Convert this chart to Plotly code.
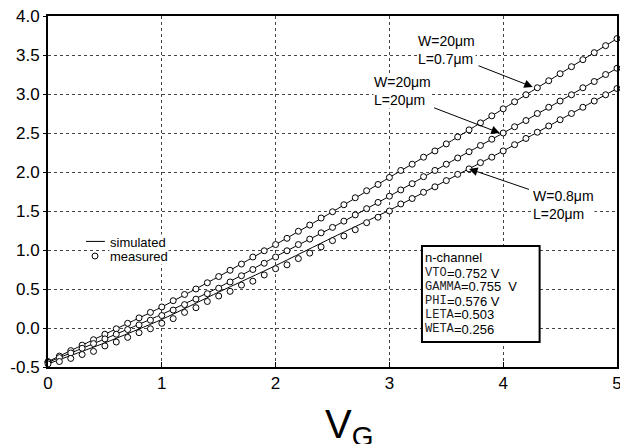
import plotly.graph_objects as go

# ---------------- data ----------------
vg_sim = [0.0, 0.5, 1.0, 1.5, 2.0, 2.5, 3.0, 3.5, 4.0, 4.5, 5.0]
sim_w20_l07 = [-0.43, -0.08, 0.27, 0.66, 1.07, 1.49, 1.93, 2.36, 2.81, 3.26, 3.71]
sim_w20_l20 = [-0.44, -0.14, 0.175, 0.52, 0.915, 1.29, 1.69, 2.10, 2.50, 2.91, 3.33]
sim_w08_l20 = [-0.46, -0.19, 0.11, 0.46, 0.80, 1.16, 1.51, 1.89, 2.27, 2.67, 3.07]

vg_meas = [round(i * 0.1, 1) for i in range(51)]
meas_w20_l07 = [-0.43, -0.36, -0.29, -0.22, -0.15, -0.08, -0.01, 0.06, 0.13, 0.20,
                0.27, 0.35, 0.43, 0.50, 0.58, 0.66, 0.74, 0.82, 0.91, 0.99,
                1.07, 1.15, 1.24, 1.32, 1.41, 1.49, 1.58, 1.67, 1.76, 1.84,
                1.93, 2.02, 2.10, 2.19, 2.27, 2.36, 2.45, 2.54, 2.63, 2.72,
                2.81, 2.90, 2.99, 3.08, 3.17, 3.26, 3.35, 3.44, 3.53, 3.62, 3.71]
meas_w20_l20 = [-0.44, -0.38, -0.32, -0.26, -0.20, -0.14, -0.08, -0.02, 0.04, 0.10,
                0.16, 0.23, 0.30, 0.37, 0.44, 0.51, 0.59, 0.67, 0.75, 0.83,
                0.91, 0.99, 1.07, 1.14, 1.22, 1.29, 1.37, 1.45, 1.53, 1.61,
                1.69, 1.77, 1.85, 1.94, 2.02, 2.10, 2.18, 2.26, 2.34, 2.42,
                2.50, 2.58, 2.66, 2.75, 2.83, 2.91, 2.99, 3.08, 3.16, 3.25, 3.33]
meas_w08_l20 = [-0.46, -0.43, -0.39, -0.34, -0.30, -0.23, -0.18, -0.12, -0.06, -0.01,
                0.06, 0.12, 0.20, 0.26, 0.34, 0.41, 0.47, 0.55, 0.60, 0.68,
                0.76, 0.81, 0.89, 0.96, 1.04, 1.12, 1.18, 1.26, 1.35, 1.42,
                1.50, 1.59, 1.66, 1.74, 1.81, 1.89, 1.97, 2.04, 2.12, 2.19,
                2.27, 2.35, 2.43, 2.51, 2.59, 2.67, 2.75, 2.83, 2.91, 2.99, 3.07]

x_ticks = [0, 1, 2, 3, 4, 5]
y_ticks = [-0.5, 0.0, 0.5, 1.0, 1.5, 2.0, 2.5, 3.0, 3.5, 4.0]

labels = ["W=20μm<br>L=0.7μm", "W=20μm<br>L=20μm", "W=0.8μm<br>L=20μm"]
param_title = "n-channel"
param_keys = ["VTO", "GAMMA", "PHI", "LETA", "WETA"]
param_vals = ["=0.752 V", "=0.755  V", "=0.576 V", "=0.503", "=0.256"]

FONT = "Arial, Liberation Sans, sans-serif"
MONO = "Liberation Mono, Courier New, monospace"

fig = go.Figure()
for ys in (sim_w20_l07, sim_w20_l20, sim_w08_l20):
    fig.add_trace(go.Scatter(x=vg_sim, y=ys, mode="lines",
                             line=dict(color="black", width=1, shape="spline", smoothing=0.6),
                             showlegend=False, hoverinfo="skip", cliponaxis=False))
for ys in (meas_w20_l07, meas_w20_l20, meas_w08_l20):
    fig.add_trace(go.Scatter(x=vg_meas, y=ys, mode="markers",
                             marker=dict(symbol="circle", size=6, color="white",
                                         line=dict(color="black", width=1)),
                             showlegend=False, hoverinfo="skip", cliponaxis=False))

annotations = []
# curve labels (white background hides the grid behind them)
for (lx, ly, t) in [(3.24, 3.56, labels[0]), (2.86, 3.04, labels[1]), (4.25, 1.58, labels[2])]:
    annotations.append(dict(x=lx, y=ly, xref="x", yref="y", text=t, showarrow=False,
                            xanchor="left", yanchor="middle", align="left", bgcolor="white",
                            borderpad=0,
                            font=dict(family=FONT, size=14, color="black")))
# arrows
for (tx, ty, hx, hy) in [(3.77, 3.37, 4.26, 3.09), (3.38, 2.83, 3.97, 2.50), (4.24, 1.77, 3.70, 2.04)]:
    annotations.append(dict(x=hx, y=hy, ax=tx, ay=ty, xref="x", yref="y", axref="x", ayref="y",
                            text="", showarrow=True, arrowhead=2, arrowsize=1.7, arrowwidth=1,
                            arrowcolor="black", standoff=0))
# legend
annotations.append(dict(x=0.54, y=1.10, xref="x", yref="y", text="simulated", showarrow=False,
                        xanchor="left", yanchor="middle", bgcolor="white", borderpad=0,
                        font=dict(family=FONT, size=13, color="black")))
annotations.append(dict(x=0.54, y=0.92, xref="x", yref="y", text="measured", showarrow=False,
                        xanchor="left", yanchor="middle", bgcolor="white", borderpad=0,
                        font=dict(family=FONT, size=13, color="black")))
# parameter box text
box_x = 3.30
line_y = [0.91, 0.705, 0.526, 0.346, 0.167, -0.013]
annotations.append(dict(x=box_x, y=line_y[0], xref="x", yref="y", text=param_title, showarrow=False,
                        xanchor="left", yanchor="middle", borderpad=0,
                        font=dict(family=FONT, size=13, color="black")))
for i, (k, v) in enumerate(zip(param_keys, param_vals)):
    annotations.append(dict(x=box_x, y=line_y[i + 1], xref="x", yref="y", text=k, showarrow=False,
                            xanchor="left", yanchor="middle", borderpad=0,
                            font=dict(family=MONO, size=12, color="#222")))
    annotations.append(dict(x=box_x, y=line_y[i + 1], xref="x", yref="y", text=v, showarrow=False,
                            xanchor="left", yanchor="middle", borderpad=0,
                            xshift=len(k) * 7.2 + 0.5,
                            font=dict(family=FONT, size=13, color="black")))
# x-axis title
annotations.append(dict(x=0.529, y=-0.172, xref="paper", yref="paper", text="V<sub>G</sub>",
                        showarrow=False, xanchor="center", yanchor="middle",
                        font=dict(family=FONT, size=40, color="black")))

shapes = [
    dict(type="line", xref="x", yref="y", x0=0.334, x1=0.50, y0=1.11, y1=1.11,
         line=dict(color="black", width=1)),
    dict(type="circle", xref="x", yref="y", x0=0.387, x1=0.439, y0=0.885, y1=0.961,
         line=dict(color="black", width=1), fillcolor="white"),
    dict(type="rect", xref="x", yref="y", x0=3.286, x1=4.32, y0=-0.18, y1=1.05,
         line=dict(color="black", width=2), fillcolor="white", layer="above"),
]

fig.update_layout(
    width=620, height=444,
    margin=dict(l=48, r=3, t=16, b=77, autoexpand=False),
    paper_bgcolor="white", plot_bgcolor="white",
    font=dict(family=FONT, size=17, color="black"),
    showlegend=False,
    annotations=annotations,
    shapes=shapes,
)
fig.update_xaxes(range=[0, 5], tickvals=x_ticks, ticktext=[str(v) for v in x_ticks],
                 automargin=False, ticklabeloverflow="allow",
                 showline=True, mirror=True, linewidth=2, linecolor="black",
                 showgrid=True, gridcolor="#444", gridwidth=1, griddash="dot",
                 zeroline=False, ticks="inside", ticklen=5, tickcolor="black",
                 tickfont=dict(family=FONT, size=17, color="black"))
fig.update_yaxes(range=[-0.5, 4.0], tickvals=y_ticks, ticktext=[f"{v:.1f}" for v in y_ticks],
                 automargin=False, ticklabeloverflow="allow",
                 showline=True, mirror=True, linewidth=2, linecolor="black",
                 showgrid=True, gridcolor="#444", gridwidth=1, griddash="dot",
                 zeroline=False, ticks="outside", ticklen=3, tickcolor="black",
                 tickfont=dict(family=FONT, size=17, color="black"))

fig.write_html("out.html", config={"displayModeBar": False},
               post_script="document.body.style.margin='0';")
